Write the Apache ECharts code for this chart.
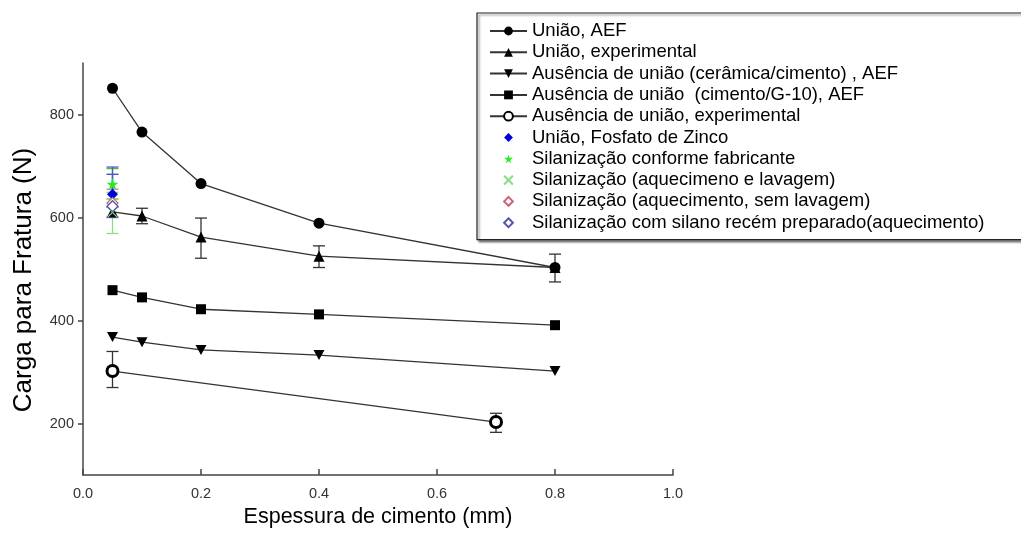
<!DOCTYPE html>
<html><head><meta charset="utf-8">
<script src="https://cdn.jsdelivr.net/npm/echarts@6/dist/echarts.min.js"></script>
<style>html,body{margin:0;padding:0;background:#fff}#c{width:1021px;height:533px}</style>
</head><body><div id="c"></div>
<script>
// ---- data ----
const xValues = [0.05, 0.1, 0.2, 0.4, 0.8];
const uniaoAEF = [851, 766, 666, 589, 503];
const uniaoExp = [611, 603, 562, 525, 503];
const ausCerAEF = [368, 358, 343, 333, 302];
const ausG10AEF = [459, 445, 422, 412, 391];
const xAusExp = [0.05, 0.7];
const ausExp = [302, 203];
// error bars [x, low, high]
const uniaoExpErr = [[0.1, 588, 618], [0.2, 521, 599], [0.4, 503, 545], [0.8, 475, 529]];
const ausExpErr = [[0.05, 270, 340], [0.7, 183, 220]];
// single-point groups at 0.05 mm: [x, y], error [x, low, high]
const zinco = [[0.05, 645]];
const zincoErr = [[0.05, 620, 684]];
const silFab = [[0.05, 665]];
const silFabErr = [[0.05, 636, 695]];
const silAqLav = [[0.05, 610]];
const silAqLavErr = [[0.05, 569, 649]];
const silAqSem = [[0.05, 628]];
const silAqSemErr = [[0.05, 602, 655]];
const silNovo = [[0.05, 622]];
const silNovoErr = [[0.05, 600, 698]];
const yTicks = [200, 400, 600, 800];
const names = [
  'União, AEF',
  'União, experimental',
  'Ausência de união (cerâmica/cimento) , AEF',
  'Ausência de união  (cimento/G-10), AEF',
  'Ausência de união, experimental',
  'União, Fosfato de Zinco',
  'Silanização conforme fabricante',
  'Silanização (aquecimeno e lavagem)',
  'Silanização (aquecimento, sem lavagem)',
  'Silanização com silano recém preparado(aquecimento)'
];
const yTitle = 'Carga para Fratura (N)';
const xTitle = 'Espessura de cimento (mm)';

const pair = (xs, ys) => xs.map((x, i) => [x, ys[i]]);
const DOWN = 'path://M0,0 L10,0 L5,9 Z';
const STAR = 'path://M50,0 L61,35 L98,35 L68,57 L79,91 L50,70 L21,91 L32,57 L2,35 L39,35 Z';
const XMARK = 'path://M0,0 L10,10 M10,0 L0,10';

function errSeries(data, color, z) {
  return {
    type: 'custom', data: data, z: z || 1, silent: true,
    encode: {x: 0, y: [1, 2]},
    renderItem: function (params, api) {
      const x = api.value(0), lo = api.value(1), hi = api.value(2);
      const a = api.coord([x, hi]), b = api.coord([x, lo]);
      const w = 6;
      const st = {stroke: color, lineWidth: 1.3};
      return {type: 'group', children: [
        {type: 'line', shape: {x1: a[0], y1: a[1], x2: b[0], y2: b[1]}, style: st},
        {type: 'line', shape: {x1: a[0] - w, y1: a[1], x2: a[0] + w, y2: a[1]}, style: st},
        {type: 'line', shape: {x1: b[0] - w, y1: b[1], x2: b[0] + w, y2: b[1]}, style: st}
      ]};
    }
  };
}
function lineSeries(name, data, symbol, size, itemStyle) {
  return {
    name: name, type: 'line', data: data, symbol: symbol, symbolSize: size,
    lineStyle: {color: '#333', width: 1.3}, itemStyle: itemStyle || {color: '#000'},
    z: 3, animation: false
  };
}
// single markers drawn as line series with an invisible line so the legend shows only the marker
function markSeries(name, data, symbol, size, itemStyle) {
  return {
    name: name, type: 'line', data: data, symbol: symbol, symbolSize: size,
    lineStyle: {opacity: 0, width: 0}, itemStyle: itemStyle, z: 4, animation: false
  };
}

const chart = echarts.init(document.getElementById('c'));
chart.setOption({
  animation: false,
  backgroundColor: '#fff',
  grid: {left: 83, right: 348, top: 63, bottom: 57},
  xAxis: {
    type: 'value', min: 0, max: 1, interval: 0.2,
    name: xTitle, nameLocation: 'middle', nameGap: 20,
    nameTextStyle: {fontFamily: 'Liberation Sans, Arial', fontSize: 21.5, color: '#000', verticalAlign: 'top'},
    axisLine: {lineStyle: {color: '#444', width: 1.5}},
    axisTick: {inside: true, length: 6, lineStyle: {color: '#444', width: 1.5}},
    axisLabel: {color: '#333', fontSize: 14.5, fontFamily: 'Liberation Sans, Arial', margin: 11,
      formatter: v => v.toFixed(1)},
    splitLine: {show: false}
  },
  yAxis: {
    type: 'value', min: 100, max: 900,
    axisLine: {show: true, lineStyle: {color: '#444', width: 1.5}},
    axisTick: {show: true, length: 5, customValues: yTicks, lineStyle: {color: '#444', width: 1.5}},
    axisLabel: {color: '#333', fontSize: 14.5, fontFamily: 'Liberation Sans, Arial', margin: 9,
      customValues: yTicks},
    splitLine: {show: false}
  },
  graphic: [{
    type: 'text', x: 24, y: 280, rotation: Math.PI / 2,
    style: {text: yTitle, fontFamily: 'Liberation Sans, Arial', fontSize: 26, fill: '#000',
      align: 'center', verticalAlign: 'middle'}
  }],
  legend: {
    data: names, orient: 'vertical', left: 477, top: 13,
    padding: [8, 90, 7, 12], itemGap: 1.3, itemWidth: 37, itemHeight: 11,
    backgroundColor: '#fff', borderColor: '#222', borderWidth: 1.2,
    shadowColor: 'rgba(0,0,0,0.45)', shadowOffsetX: 2, shadowOffsetY: 2, shadowBlur: 2,
    textStyle: {fontFamily: 'Liberation Sans, Arial', fontSize: 18.5, color: '#000', lineHeight: 20}
  },
  series: [
    errSeries(uniaoExpErr, '#333', 2),
    errSeries(ausExpErr, '#333', 2),
    errSeries(silAqLavErr, '#88dd88', 1),
    errSeries(silFabErr, '#33cc33', 1),
    errSeries(silAqSemErr, '#cc77aa', 1),
    errSeries(zincoErr, '#3344cc', 1),
    errSeries(silNovoErr, '#5555bb', 1),
    lineSeries(names[0], pair(xValues, uniaoAEF), 'circle', 11),
    lineSeries(names[1], pair(xValues, uniaoExp), 'triangle', 11),
    lineSeries(names[2], pair(xValues, ausCerAEF), DOWN, [11, 10]),
    lineSeries(names[3], pair(xValues, ausG10AEF), 'rect', 10),
    lineSeries(names[4], pair(xAusExp, ausExp), 'circle', 11, {color: '#fff', borderColor: '#000', borderWidth: 3}),
    markSeries(names[5], zinco, 'diamond', 11, {color: '#0000dd'}),
    markSeries(names[6], silFab, STAR, 12, {color: '#22ee22'}),
    markSeries(names[7], silAqLav, XMARK, 10, {color: 'transparent', borderColor: '#88dd88', borderWidth: 1.3}),
    markSeries(names[8], silAqSem, 'diamond', 11, {color: '#fff', borderColor: '#cc6677', borderWidth: 1.3}),
    markSeries(names[9], silNovo, 'diamond', 11, {color: '#fff', borderColor: '#5555aa', borderWidth: 1.3})
  ]
});
</script></body></html>
